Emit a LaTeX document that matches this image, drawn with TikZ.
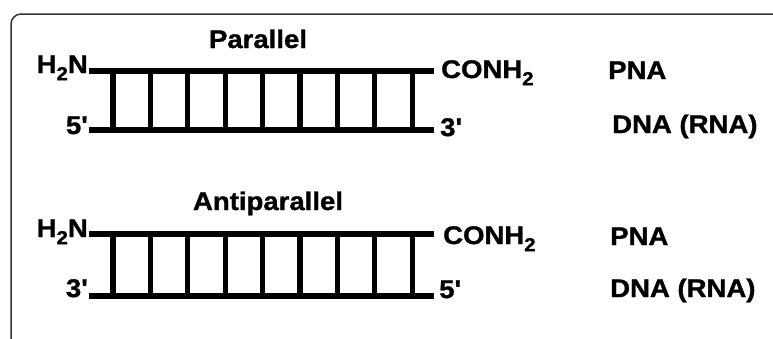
\documentclass[tikz,border=0pt]{standalone}
\usepackage{fontspec}
\setmainfont{Liberation Sans}[Ligatures=TeXOff, FakeStretch=1.08, BoldFeatures={FakeBold=1.2}]
\usetikzlibrary{calc}
\newcommand\subtwo{\raisebox{-0.28em}{\scalebox{0.74}{2}}}
\newcommand\prm{\symbol{"27}}
\begin{document}
\begin{tikzpicture}[x=1pt,y=-1pt,
  lbl/.style={font=\fontsize{25.5}{30}\selectfont\bfseries, inner sep=0pt, text=black},
  rail/.style={line width=6pt, draw=black},
  rung/.style={line width=5.2pt, draw=black},
  frame/.style={draw=black!80, line width=1.5pt, rounded corners=10pt}]
\useasboundingbox (0,0) rectangle (773,338);
% frame
\coordinate (fb) at (11,345);
\coordinate (fc) at (11,14);
\coordinate (fr) at (780,14);
\draw[frame] (fb) -- (fc) -- (fr);

% ---------- Parallel ladder ----------
\coordinate (a-tl) at (89,71);  \coordinate (a-tr) at (434,71);
\coordinate (a-bl) at (89,130); \coordinate (a-br) at (434,130);
\foreach \t in {0.0696,0.1780,0.2864,0.3948,0.5032,0.6116,0.7200,0.8284,0.9368}
  \draw[rung] ($(a-tl)!\t!(a-tr)$) -- ($(a-bl)!\t!(a-br)$);
\draw[rail] (a-tl) -- (a-tr);
\draw[rail] (a-bl) -- (a-br);
\node[lbl, anchor=base] (a-title) at (258,48) {Parallel};
\node[lbl, anchor=base east] (a-h2n) at (88,73) {H\subtwo N};
\node[lbl, anchor=base east] (a-5) at (88,134) {5\prm};
\node[lbl, anchor=base west] (a-conh) at (441,78) {CONH\subtwo};
\node[lbl, anchor=base west] (a-3) at (440,136) {3\prm};
\node[lbl, anchor=base west] (a-pna) at (608,79) {PNA};
\node[lbl, anchor=base west] (a-dna) at (612,133) {DNA (RNA)};

% ---------- Antiparallel ladder ----------
\coordinate (b-tl) at (89,234);  \coordinate (b-tr) at (434,234);
\coordinate (b-bl) at (89,296);  \coordinate (b-br) at (434,296);
\foreach \t in {0.0696,0.1780,0.2864,0.3948,0.5032,0.6116,0.7200,0.8284,0.9368}
  \draw[rung] ($(b-tl)!\t!(b-tr)$) -- ($(b-bl)!\t!(b-br)$);
\draw[rail] (b-tl) -- (b-tr);
\draw[rail] (b-bl) -- (b-br);
\node[lbl, anchor=base] (b-title) at (268,210) {Antiparallel};
\node[lbl, anchor=base east] (b-h2n) at (88,237) {H\subtwo N};
\node[lbl, anchor=base east] (b-3) at (88,297) {3\prm};
\node[lbl, anchor=base west] (b-conh) at (443,244) {CONH\subtwo};
\node[lbl, anchor=base west] (b-5) at (439,298) {5\prm};
\node[lbl, anchor=base west] (b-pna) at (610,245) {PNA};
\node[lbl, anchor=base west] (b-dna) at (610,297) {DNA (RNA)};
\end{tikzpicture}
\end{document}
